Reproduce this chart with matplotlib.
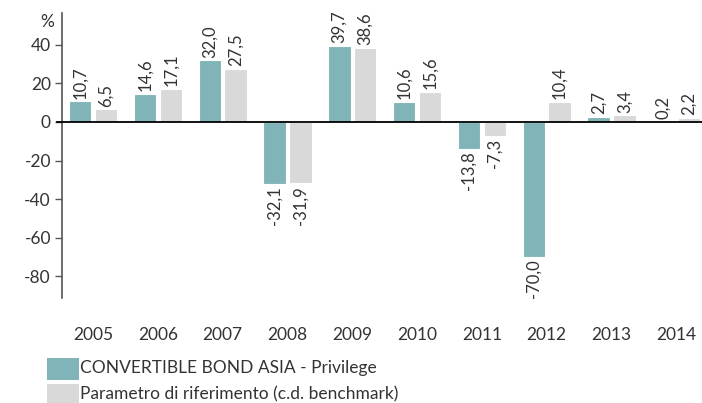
import numpy as np
import matplotlib
matplotlib.use('Agg')
import matplotlib.pyplot as plt
from matplotlib.patches import Rectangle
from matplotlib.ticker import FuncFormatter

years = ['2005', '2006', '2007', '2008', '2009', '2010', '2011', '2012', '2013', '2014']
fund = [10.7, 14.6, 32.0, -32.1, 39.7, 10.6, -13.8, -70.0, 2.7, 0.2]
benchmark = [6.5, 17.1, 27.5, -31.9, 38.6, 15.6, -7.3, 10.4, 3.4, 2.2]
series_names = ['CONVERTIBLE BOND ASIA - Privilege', 'Parametro di riferimento (c.d. benchmark)']
yticks = [40, 20, 0, -20, -40, -60, -80]

teal = '#80b4b9'
grey = '#d9d9d9'
txt = '#333333'

plt.rcParams['font.family'] = ['Lato', 'DejaVu Sans']

fig = plt.figure(figsize=(7.02, 4.03), dpi=100)
W, H = 702, 403
ax = fig.add_axes([62 / W, 1 - 298 / H, 640 / W, 285 / H])

x = np.arange(len(years))
off = 0.2
bw = 0.345
b1 = ax.bar(x - off, fund, bw, color=teal, edgecolor='white', linewidth=0.8, zorder=2)
b2 = ax.bar(x + off, benchmark, bw, color=grey, edgecolor='white', linewidth=0.8, zorder=2)

# value labels, rotated, outside bar ends
for bars, vals in [(b1, fund), (b2, benchmark)]:
    for rect, v in zip(bars, vals):
        cx = rect.get_x() + rect.get_width() / 2
        lab = f'{v:.1f}'.replace('.', ',')
        if v >= 0:
            ax.annotate(lab, (cx, v), xytext=(0, 2), textcoords='offset points',
                        rotation=90, ha='center', va='bottom', fontsize=12, color=txt)
        else:
            ax.annotate(lab, (cx, v), xytext=(0, -2), textcoords='offset points',
                        rotation=90, ha='center', va='top', fontsize=12, color=txt)

ax.set_xlim(-0.48, 9.397)
ax.set_ylim(-91.4, 56.6)

ax.axhline(0, color='black', linewidth=1.3, zorder=3, clip_on=False)
ax.plot([-0.55, -0.48], [0, 0], color='black', linewidth=1.3, clip_on=False)

for s in ['top', 'right', 'bottom']:
    ax.spines[s].set_visible(False)
ax.spines['left'].set_color('#555555')
ax.spines['left'].set_linewidth(1.2)

ax.set_yticks(yticks)
ax.yaxis.set_major_formatter(FuncFormatter(lambda v, p: f'{int(v)}'))
ax.tick_params(axis='y', length=5, width=1, color='#555555', labelsize=12.5, labelcolor=txt, pad=3)
ax.set_xticks([])

for i, yr in enumerate(years):
    ax.text(i, -0.1, yr, transform=ax.get_xaxis_transform(), ha='center', va='top',
            fontsize=12.5, color=txt)

fig.text(47 / W, 1 - 22 / H, '%', ha='center', va='center', fontsize=12.5, color=txt)

# legend
for k, (name, col) in enumerate(zip(series_names, [teal, grey])):
    top = 358 + k * 26
    fig.add_artist(Rectangle((47 / W, 1 - (top + 22) / H), 32 / W, 22 / H,
                             transform=fig.transFigure, facecolor=col, edgecolor='none'))
    fig.text(80 / W, 1 - (top + 10) / H, name, ha='left', va='center', fontsize=12.5, color=txt)

fig.savefig('out.png', dpi=100)
